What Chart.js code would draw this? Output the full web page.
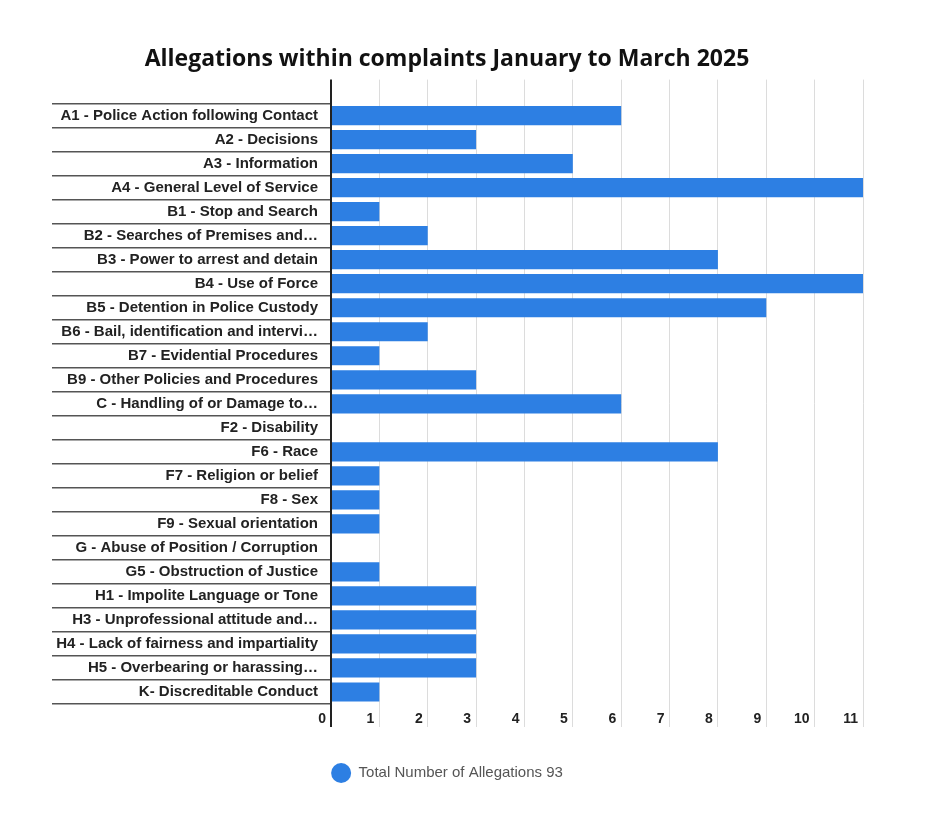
<!DOCTYPE html>
<html>
<head>
<meta charset="utf-8">
<title>Allegations within complaints</title>
<script src="https://cdn.jsdelivr.net/npm/chart.js@4.4.1/dist/chart.umd.min.js"></script>
<style>
    body { margin: 0; background: #fff; }
    #wrap { width: 940px; height: 817px; position: relative; }
</style>
</head>
<body>
<div id="wrap"><canvas id="chartAlegacoes"></canvas></div>
<script>
// dados
const categorias = [
    'A1 - Police Action following Contact',
    'A2 - Decisions',
    'A3 - Information',
    'A4 - General Level of Service',
    'B1 - Stop and Search',
    'B2 - Searches of Premises and…',
    'B3 - Power to arrest and detain',
    'B4 - Use of Force',
    'B5 - Detention in Police Custody',
    'B6 - Bail, identification and intervi…',
    'B7 - Evidential Procedures',
    'B9 - Other Policies and Procedures',
    'C - Handling of or Damage to…',
    'F2 - Disability',
    'F6 - Race',
    'F7 - Religion or belief',
    'F8 - Sex',
    'F9 - Sexual orientation',
    'G - Abuse of Position / Corruption',
    'G5 - Obstruction of Justice',
    'H1 - Impolite Language or Tone',
    'H3 - Unprofessional attitude and…',
    'H4 - Lack of fairness and impartiality',
    'H5 - Overbearing or harassing…',
    'K- Discreditable Conduct'
];
const valores = [6, 3, 5, 11, 1, 2, 8, 11, 9, 2, 1, 3, 6, 0, 8, 1, 1, 1, 0, 1, 3, 3, 3, 3, 1];
const eixoMin = 0;
const eixoMax = 11;
const titulo = 'Allegations within complaints January to March 2025';
const legenda = 'Total Number of Allegations 93';

const azul = '#2d7fe3';
const corGrade = '#dcdcdc';
const corEixo = '#222';

function corLinha(ctx) {
    return ctx.tick && ctx.tick.value === 0 ? corEixo : corGrade;
}
function larguraLinha(ctx) {
    return ctx.tick && ctx.tick.value === 0 ? 2 : 1;
}

const ctx = document.getElementById('chartAlegacoes');
new Chart(ctx, {
    type: 'bar',
    data: {
        labels: categorias,
        datasets: [{
            label: legenda,
            data: valores,
            backgroundColor: azul,
            borderWidth: 0,
            categoryPercentage: 0.8,
            barPercentage: 1
        }]
    },
    options: {
        indexAxis: 'y',
        responsive: true,
        maintainAspectRatio: false,
        animation: false,
        layout: {
            padding: { left: 31, right: 77, top: 0, bottom: 24 }
        },
        scales: {
            x: {
                min: eixoMin,
                max: eixoMax,
                position: 'bottom',
                border: { display: false },
                grid: {
                    color: corLinha,
                    lineWidth: larguraLinha,
                    tickLength: 23,
                    drawOnChartArea: true
                },
                ticks: {
                    stepSize: 1,
                    align: 'end',
                    labelOffset: -5,
                    padding: -16,
                    color: corEixo,
                    font: { family: 'Liberation Sans, Arial', size: 14, weight: 'bold' }
                },
                afterFit: (scale) => { scale.height = 49; }
            },
            x2: {
                axis: 'x',
                type: 'linear',
                min: eixoMin,
                max: eixoMax,
                position: 'top',
                border: { display: false },
                grid: {
                    color: corLinha,
                    lineWidth: larguraLinha,
                    tickLength: 24,
                    drawOnChartArea: false
                },
                ticks: { display: false, stepSize: 1 },
                afterFit: (scale) => { scale.height = 24; }
            },
            y: {
                border: { display: true, color: corEixo, width: 2 },
                grid: {
                    drawOnChartArea: false,
                    tickLength: 279,
                    color: '#555',
                    lineWidth: 1.5
                },
                ticks: {
                    padding: -266,
                    color: corEixo,
                    font: { family: 'Liberation Sans, Arial', size: 15, weight: 'bold' }
                },
                afterFit: (scale) => { scale.width = 300; }
            }
        },
        plugins: {
            title: {
                display: true,
                text: titulo,
                color: '#111',
                font: { family: 'Open Sans', size: 23, weight: 'bold' },
                padding: { top: 46, bottom: 6 }
            },
            legend: {
                position: 'bottom',
                labels: {
                    boxWidth: 20,
                    boxHeight: 20,
                    useBorderRadius: true,
                    borderRadius: 10,
                    color: '#555',
                    padding: 10,
                    font: { family: 'Liberation Sans, Arial', size: 15 }
                }
            },
            tooltip: { enabled: false }
        }
    }
});
</script>
</body>
</html>
